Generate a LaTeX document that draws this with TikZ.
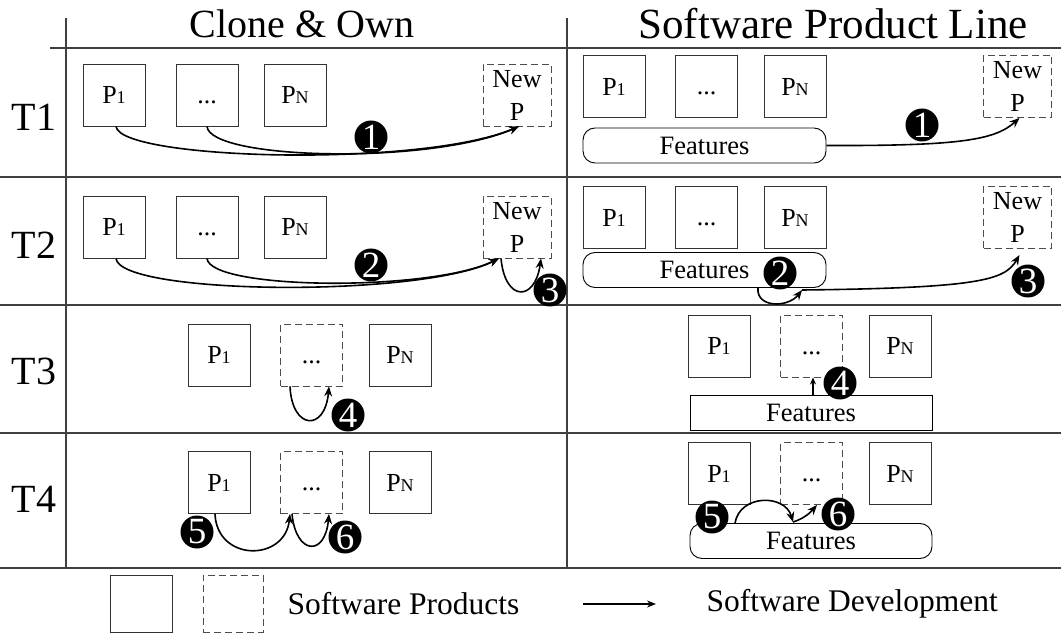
\documentclass[tikz,border=0pt]{standalone}
\usepackage{fontspec}
\setmainfont{Liberation Serif}
\usetikzlibrary{arrows.meta}
\newcommand\smtx[1]{{\fontsize{18}{18}\selectfont #1}}
\newcommand\dts{\vphantom{P}...}
\begin{document}
\begin{tikzpicture}[x=1pt,y=-1pt,
  prod/.style={draw=black!80, line width=0.9pt, minimum width=62pt, minimum height=62pt, inner sep=0pt, font=\fontsize{26}{33}\selectfont},
  newp/.style={prod, minimum width=68pt, dash pattern=on 7pt off 4pt, draw=black!70, align=center},
  dprod/.style={prod, dash pattern=on 7pt off 4pt, draw=black!70},
  feat/.style={draw=black, line width=0.9pt, rounded corners=12pt, inner sep=0pt, minimum width=243pt, minimum height=35pt, font=\fontsize{26.5}{26.5}\selectfont},
  featsq/.style={feat, rounded corners=0pt, minimum width=242pt},
  num/.style={circle, fill=black, text=white, inner sep=0pt, minimum size=33pt, font=\fontsize{37}{37}\selectfont},
  arr/.style={-{Stealth[length=10pt,width=8pt]}, line width=1.6pt},
  gridl/.style={line width=1.2pt, draw=black!75},
  hdr/.style={font=\fontsize{40}{40}\selectfont},
  lgd/.style={font=\fontsize{31.5}{31.5}\selectfont, anchor=west}]

\useasboundingbox (0,0) rectangle (1061,639);

% grid
\draw[gridl] (66,18) -- (66,568);
\draw[gridl] (567,18) -- (567,568);
\draw[gridl] (50,48) -- (1061,48);
\draw[gridl] (0,177) -- (1061,177);
\draw[gridl] (0,305) -- (1061,305);
\draw[gridl] (0,433) -- (1061,433);
\draw[gridl] (0,568) -- (1061,568);

% headers
\node[hdr] (hco) at (302,24) {Clone \& Own};
\node[hdr, font=\fontsize{43}{43}\selectfont] (hspl) at (833,24) {Software Product Line};
\node[hdr] (t1) at (34,117) {T1};
\node[hdr] (t2) at (34,245) {T2};
\node[hdr] (t3) at (34,371) {T3};
\node[hdr] (t4) at (34,499) {T4};

% ---- T1 left
\node[prod] (a1) at (114,95) {P\smtx{1}};
\node[prod] (b1) at (207,95) {\dts};
\node[prod] (c1) at (295,95) {P\smtx{N}};
\node[newp] (n1) at (517,95) {New\\P};
\draw[arr] ([xshift=2pt]a1.south) .. controls (120,160) and (420,168) .. ([xshift=2pt]n1.south);
\draw[arr] (b1.south) .. controls (210,160) and (430,165) .. ([xshift=2pt]n1.south);
\node[num] (k1) at (371,137) {1};

% ---- T1 right
\node[prod] (a1r) at (614,86.5) {P\smtx{1}};
\node[prod] (b1r) at (706.5,86.5) {\dts};
\node[prod] (c1r) at (795,86.5) {P\smtx{N}};
\node[newp] (n1r) at (1017.5,86.5) {New\\P};
\node[feat] (f1) at (704.5,145.5) {Features};
\draw[arr] (f1.east) .. controls (960,146) and (995,140) .. ([xshift=2pt]n1r.south);
\node[num] (k1r) at (922,125) {1};

% ---- T2 left
\node[prod] (a2) at (114,227) {P\smtx{1}};
\node[prod] (b2) at (207,227) {\dts};
\node[prod] (c2) at (295,227) {P\smtx{N}};
\node[newp] (n2) at (517,227) {New\\P};
\draw[arr] ([xshift=2pt]a2.south) .. controls (120,295) and (420,298) .. ([xshift=-18pt]n2.south);
\draw[arr] (b2.south) .. controls (210,290) and (430,292) .. ([xshift=-18pt]n2.south);
\node[num] (k2) at (371,265) {2};
\draw[arr] ([xshift=-16pt]n2.south) .. controls (505,302) and (535,302) .. ([xshift=24pt]n2.south);
\node[num] (k3) at (550,290) {3};

% ---- T2 right
\node[prod] (a2r) at (614,217.5) {P\smtx{1}};
\node[prod] (b2r) at (706.5,217.5) {\dts};
\node[prod] (c2r) at (795,217.5) {P\smtx{N}};
\node[newp] (n2r) at (1017.5,217.5) {New\\P};
\node[feat] (f2) at (704.5,270) {Features};
\node[num] (k2r) at (780,273) {2};
\coordinate (m2) at (802,290);
\draw[arr] ([xshift=53.5pt]f2.south) .. controls (756,308) and (788,308) .. (m2);
\draw[arr] (m2) .. controls (980,288) and (1005,280) .. ([xshift=2pt,yshift=-6pt]n2r.south);
\node[num] (k3r) at (1028,281) {3};

% ---- T3 left
\node[prod] (a3) at (219,355) {P\smtx{1}};
\node[dprod] (b3) at (311.5,355) {\dts};
\node[prod] (c3) at (400,355) {P\smtx{N}};
\draw[arr] ([xshift=-21.5pt]b3.south) .. controls (292,430) and (325,432) .. ([xshift=17.5pt]b3.south);
\node[num] (k4) at (348,415) {4};

% ---- T3 right
\node[prod] (a3r) at (719,346) {P\smtx{1}};
\node[dprod] (b3r) at (811.5,346) {\dts};
\node[prod] (c3r) at (900,346) {P\smtx{N}};
\node[featsq] (f3) at (811,412.5) {Features};
\draw[arr, -{Stealth[length=7pt,width=6pt]}] ([xshift=2pt]f3.north) -- ([xshift=1.5pt]b3r.south);
\node[num] (k4r) at (840,383) {4};

% ---- T4 left
\node[prod] (a4) at (219,482.5) {P\smtx{1}};
\node[dprod] (b4) at (311.5,482.5) {\dts};
\node[prod] (c4) at (400,482.5) {P\smtx{N}};
\draw[arr] ([xshift=-4pt]a4.south) .. controls (217,562) and (285,562) .. ([xshift=-21.5pt]b4.south);
\draw[arr] ([xshift=-19.5pt]b4.south) .. controls (296,555) and (325,557) .. ([xshift=17.5pt]b4.south);
\node[num] (k5) at (197,532) {5};
\node[num] (k6) at (345,537) {6};

% ---- T4 right
\node[prod] (a4r) at (719,473.5) {P\smtx{1}};
\node[dprod] (b4r) at (811.5,473.5) {\dts};
\node[prod] (c4r) at (900,473.5) {P\smtx{N}};
\node[feat, minimum width=242pt] (f4) at (811,541) {Features};
\coordinate (m4) at (793,522);
\draw[arr] ([xshift=-76pt]f4.north) .. controls (740,494) and (785,494) .. (m4);
\draw[arr] (m4) .. controls (803,519) and (810,513) .. ([xshift=5.5pt]b4r.south);
\node[num] (k5r) at (712,517) {5};
\node[num] (k6r) at (838,514) {6};

% ---- legend
\node[prod, minimum width=62pt, minimum height=57pt] (ls) at (141,603.5) {};
\node[dprod, minimum width=60pt, minimum height=57pt] (ld) at (233,603.5) {};
\node[lgd] (lt1) at (284,604) {Software Products};
\coordinate (la) at (583,604);
\coordinate (lb) at (656,604);
\node[lgd] (lt2) at (703,604) {Software Development};
\draw[arr, -{Stealth[length=9pt,width=7pt]}] (la) -- (lb);
\end{tikzpicture}
\end{document}
